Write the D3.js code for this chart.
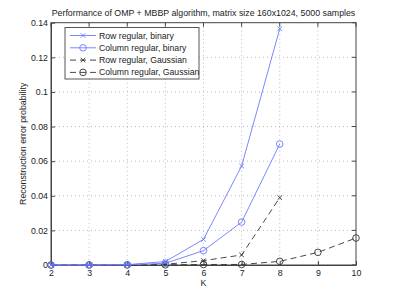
<!DOCTYPE html>
<html>
<head>
<meta charset="utf-8">
<script src="https://cdn.jsdelivr.net/npm/d3@7"></script>
<style>
  body { margin: 0; background: #fff; }
  text { font-family: "Liberation Sans", Arial, sans-serif; fill: #222; }
</style>
</head>
<body>
<script>
"use strict";

// data
var kRowBin = [2, 3, 4, 5, 6, 7, 8];
var rowBinary = [0, 0, 0.0002, 0.002, 0.0148, 0.0572, 0.1365];
var kColBin = [2, 3, 4, 5, 6, 7, 8];
var colBinary = [0, 0, 0.0001, 0.001, 0.0083, 0.0248, 0.0699];
var kRowGau = [2, 3, 4, 5, 6, 7, 8];
var rowGaussian = [0, 0, 0, 0.0004, 0.0025, 0.0058, 0.0389];
var kColGau = [2, 3, 4, 5, 6, 7, 8, 9, 10];
var colGaussian = [0, 0, 0, 0.0001, 0.0003, 0.0003, 0.0021, 0.0073, 0.0156];

var xTicks = [2, 3, 4, 5, 6, 7, 8, 9, 10];
var yTicks = [0, 0.02, 0.04, 0.06, 0.08, 0.1, 0.12, 0.14];
var legendLabels = ["Row regular, binary", "Column regular, binary",
                    "Row regular, Gaussian", "Column regular, Gaussian"];

var W = 393, H = 299;
var pLeft = 51, pRight = 356, pTop = 22.7, pBottom = 265;
var blue = "#6b7bff", black = "#333";

var svg = d3.select("body").append("svg")
    .attr("width", W)
    .attr("height", H);

var x = d3.scaleLinear().domain([2, 10]).range([pLeft, pRight]);
var y = d3.scaleLinear().domain([0, 0.14]).range([pBottom, pTop]);

// grid
svg.append("g").selectAll("line")
    .data(xTicks.slice(1, -1))
    .enter().append("line")
    .attr("x1", function(d) { return x(d); })
    .attr("x2", function(d) { return x(d); })
    .attr("y1", pTop).attr("y2", pBottom)
    .attr("stroke", "#aaa").attr("stroke-width", 0.8)
    .attr("stroke-dasharray", "1,3");
svg.append("g").selectAll("line")
    .data(yTicks.slice(1, -1))
    .enter().append("line")
    .attr("y1", function(d) { return y(d); })
    .attr("y2", function(d) { return y(d); })
    .attr("x1", pLeft).attr("x2", pRight)
    .attr("stroke", "#aaa").attr("stroke-width", 0.8)
    .attr("stroke-dasharray", "1,3");

// axes (matlab style: ticks inward, box on all sides)
var xAxis = d3.axisBottom(x).tickValues(xTicks).tickFormat(d3.format("d"))
    .tickSizeInner(-4).tickSizeOuter(0).tickPadding(5);
var yAxis = d3.axisLeft(y).tickValues(yTicks).tickFormat(function(d) { return d === 0 ? "0" : String(+d.toFixed(2)); })
    .tickSizeInner(-4).tickSizeOuter(0).tickPadding(3);

var gx = svg.append("g").attr("transform", "translate(0," + pBottom + ")").call(xAxis);
var gy = svg.append("g").attr("transform", "translate(" + pLeft + ",0)").call(yAxis);
[gx, gy].forEach(function(g) {
    g.selectAll("text").style("font-size", "8.8px").attr("fill", "#222");
    g.selectAll("line").attr("stroke", "#444");
    g.select(".domain").attr("stroke", "#444");
});
gy.selectAll("text").attr("dy", "0.32em");

// top and right ticks
svg.append("g").selectAll("line")
    .data(xTicks)
    .enter().append("line")
    .attr("x1", function(d) { return x(d); }).attr("x2", function(d) { return x(d); })
    .attr("y1", pTop).attr("y2", pTop + 4).attr("stroke", "#444");
svg.append("g").selectAll("line")
    .data(yTicks)
    .enter().append("line")
    .attr("y1", function(d) { return y(d); }).attr("y2", function(d) { return y(d); })
    .attr("x1", pRight).attr("x2", pRight - 4).attr("stroke", "#444");
svg.append("rect")
    .attr("x", pLeft).attr("y", pTop)
    .attr("width", pRight - pLeft).attr("height", pBottom - pTop)
    .attr("fill", "none").attr("stroke", "#444");

// series
var series = [
    {k: kRowBin, v: rowBinary, color: blue, dash: null, mark: "x"},
    {k: kColBin, v: colBinary, color: blue, dash: null, mark: "o"},
    {k: kRowGau, v: rowGaussian, color: black, dash: "6,4", mark: "x"},
    {k: kColGau, v: colGaussian, color: black, dash: "6,4", mark: "o"}
];

var line = d3.line()
    .x(function(d) { return x(d[0]); })
    .y(function(d) { return y(d[1]); });

function drawMark(g, mark, color, cx, cy) {
    if (mark === "o") {
        g.append("circle").attr("cx", cx).attr("cy", cy).attr("r", 3.3)
            .attr("fill", "none").attr("stroke", color).attr("stroke-width", 0.9);
    } else {
        var s = 2.3;
        g.append("path")
            .attr("d", "M" + (cx - s) + "," + (cy - s) + "L" + (cx + s) + "," + (cy + s) +
                       "M" + (cx - s) + "," + (cy + s) + "L" + (cx + s) + "," + (cy - s))
            .attr("stroke", color).attr("stroke-width", 0.9);
    }
}

series.slice().reverse().forEach(function(s) {
    var pts = s.k.map(function(k, i) { return [k, s.v[i]]; });
    var g = svg.append("g");
    g.append("path").datum(pts)
        .attr("d", line)
        .attr("fill", "none")
        .attr("stroke", s.color)
        .attr("stroke-width", 0.9)
        .attr("stroke-dasharray", s.dash);
    pts.forEach(function(p) { drawMark(g, s.mark, s.color, x(p[0]), y(p[1])); });
});

// legend
var lg = svg.append("g");
lg.append("rect")
    .attr("x", 65).attr("y", 27.5).attr("width", 134).attr("height", 51.5)
    .attr("fill", "#fff").attr("stroke", "#444").attr("stroke-width", 0.9);
legendLabels.forEach(function(lab, i) {
    var s = series[i];
    var ly = 35.5 + i * 12.3;
    lg.append("line")
        .attr("x1", 70).attr("x2", 96).attr("y1", ly).attr("y2", ly)
        .attr("stroke", s.color).attr("stroke-width", 0.9)
        .attr("stroke-dasharray", s.dash);
    drawMark(lg, s.mark, s.color, 83, ly);
    lg.append("text")
        .attr("x", 99).attr("y", ly).attr("dy", "0.35em")
        .style("font-size", "8.7px")
        .text(lab);
});

// title and labels
svg.append("text")
    .attr("x", (pLeft + pRight) / 2).attr("y", 16)
    .attr("text-anchor", "middle")
    .style("font-size", "8.8px")
    .text("Performance of OMP + MBBP algorithm, matrix size 160x1024, 5000 samples");
svg.append("text")
    .attr("x", (pLeft + pRight) / 2).attr("y", 286)
    .attr("text-anchor", "middle")
    .style("font-size", "8.8px")
    .text("K");
svg.append("text")
    .attr("transform", "translate(26," + ((pTop + pBottom) / 2) + ") rotate(-90)")
    .attr("text-anchor", "middle")
    .style("font-size", "8.8px")
    .text("Reconstruction error probability");
</script>
</body>
</html>
